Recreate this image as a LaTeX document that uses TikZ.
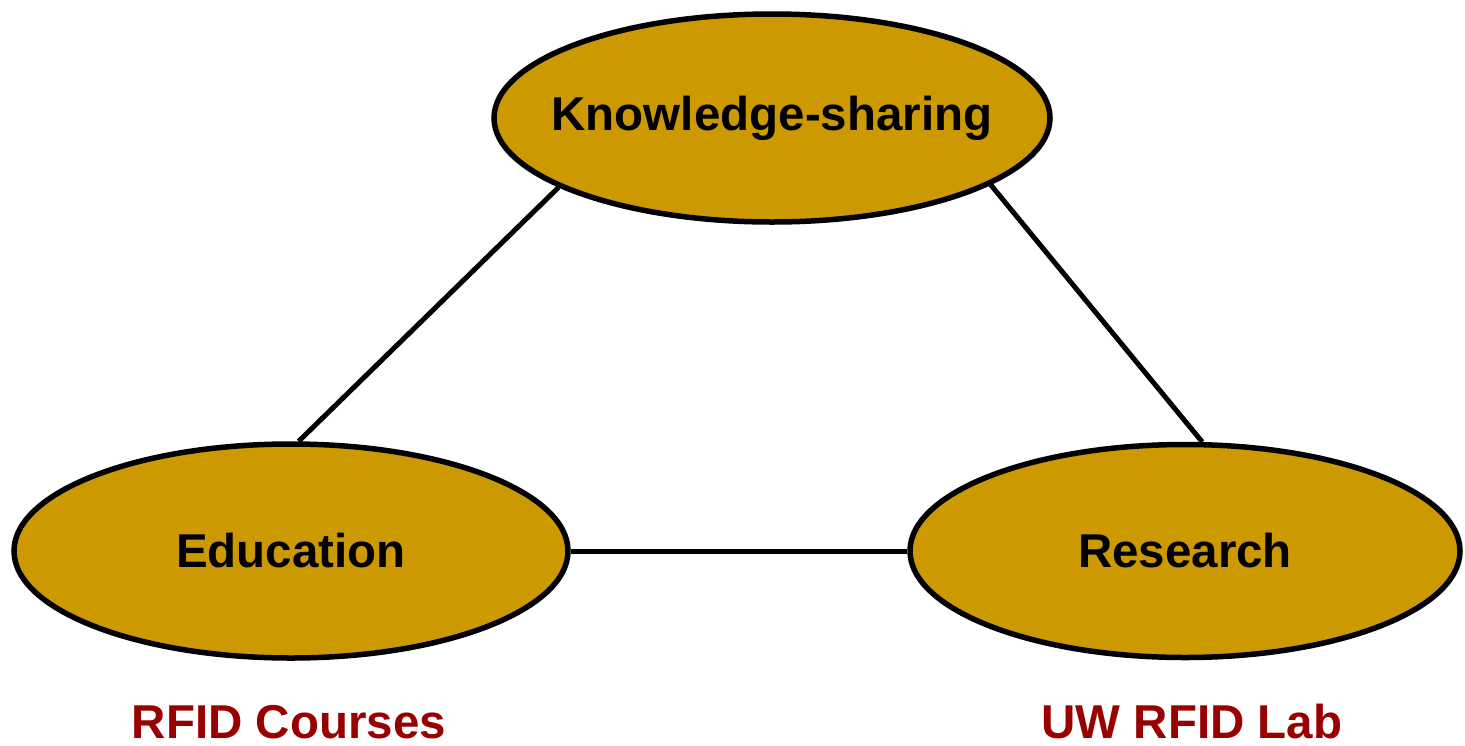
\documentclass[tikz,border=0pt]{standalone}
\usepackage{fontspec}
\setmainfont{Liberation Sans}
\usetikzlibrary{shapes.geometric}
\definecolor{gold}{HTML}{CC9900}
\definecolor{darkred}{HTML}{990000}
\tikzset{
  bubble/.style={ellipse, draw=black, line width=5.5pt, fill=gold, inner sep=0pt,
    font=\fontsize{47.5}{57}\selectfont\bfseries},
  link/.style={draw=black, line width=5pt},
  lab/.style={text=darkred, font=\fontsize{47.5}{57}\selectfont\bfseries, anchor=base}
}
\begin{document}
\begin{tikzpicture}[x=1pt,y=-1pt]
\useasboundingbox (0,0) rectangle (1465,745);
\node[bubble, minimum width=556pt, minimum height=208pt] (K) at (772,118) {\raisebox{-3pt}{\makebox[0pt]{Knowledge-sharing}}};
\node[bubble, minimum width=554pt, minimum height=214pt] (E) at (291,551) {\raisebox{-2pt}{\makebox[0pt]{Education}}};
\node[bubble, minimum width=550pt, minimum height=213pt] (R) at (1185,551) {\raisebox{-2pt}{\makebox[0pt]{Research}}};
\draw[link] (K.198) -- (E.86);
\draw[link] (K.343) -- (R.81);
\draw[link] (E.east) -- (R.west);
\node[lab] (c) at (289,738) {RFID Courses};
\node[lab] (l) at (1192,738) {UW RFID Lab};
\end{tikzpicture}
\end{document}
